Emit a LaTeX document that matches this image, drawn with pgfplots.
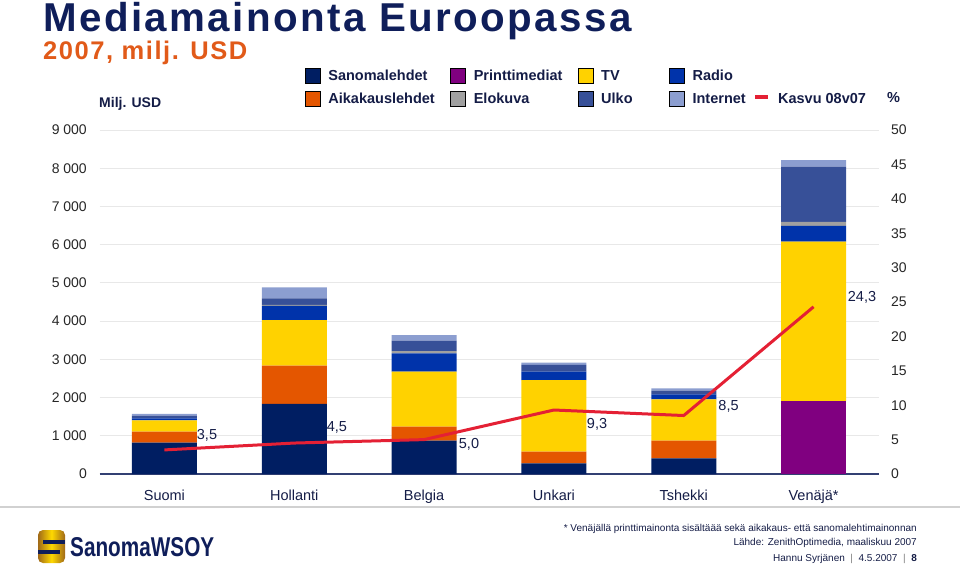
\documentclass[border=0pt]{standalone}
\usepackage{pgfplots}
\usepackage{pgfplotstable}
\pgfplotsset{compat=1.18}
\usepackage{fontspec}
\setmainfont{Liberation Sans}
\newfontfamily\titlefont[LetterSpace=6.0]{Liberation Sans}
\definecolor{cSan}{RGB}{0,30,98}
\definecolor{cAik}{RGB}{228,86,0}
\definecolor{cPri}{RGB}{128,0,128}
\definecolor{cTV}{RGB}{255,210,0}
\definecolor{cRad}{RGB}{0,51,170}
\definecolor{cElo}{RGB}{160,160,160}
\definecolor{cUlk}{RGB}{55,80,152}
\definecolor{cInt}{RGB}{140,158,208}
\definecolor{cRed}{RGB}{228,32,52}
\definecolor{cNavy}{RGB}{15,30,90}
\definecolor{cOrange}{RGB}{225,90,25}
\definecolor{cText}{RGB}{20,28,70}
\definecolor{cGold}{RGB}{228,150,35}
\pgfplotsset{
  sq/.style={legend image code/.code={\fill[##1] (0pt,-7.5pt) rectangle (15pt,7.5pt);}},
  ln/.style={legend image code/.code={\draw[##1] (0pt,1.5pt) -- (13pt,1.5pt);}},
}
\newcommand{\LE}[2]{\makebox[#1][l]{\hspace*{8pt}#2}}
\pgfplotstableread{
x San Aik Pri TV Rad Elo Ulk Int
0 820 287 0 297 53 0 69 44
1 1832 1002 0 1195 367 30 170 288
2 872 366 0 1439 480 60 270 148
3 279 305 0 1875 218 0 175 61
4 410 462 0 1082 131 0 94 63
5 0 0 1910 4168 411 105 1445 175
}\bars
\begin{document}
\begin{tikzpicture}[x=1pt,y=1pt]
\path[use as bounding box] (0,0) rectangle (960,571);
% titles
\node[anchor=base west, inner sep=0, text=cNavy, font=\titlefont\fontsize{40.3}{40.3}\selectfont\bfseries] at (43,539.5) {Mediamainonta Euroopassa};
\node[anchor=base west, inner sep=0, text=cOrange, font=\titlefont\fontsize{25.5}{25.5}\selectfont\bfseries] at (43,511) {2007, milj. USD};
\node[anchor=base west, inner sep=0, text=cText, font=\fontsize{14}{14}\selectfont\bfseries] at (99,463) {Milj. USD};
\node[anchor=base west, inner sep=0, text=cText, font=\fontsize{14.5}{14.5}\selectfont\bfseries] at (887,468) {\%};
% separator
\draw[black!18, line width=1.2pt] (0,64) -- (960,64);
% footer
\node[anchor=base east, inner sep=0, text=cText, font=\fontsize{10}{10}\selectfont] at (917,40) {* Venäjällä printtimainonta sisältäää sekä aikakaus- että sanomalehtimainonnan};
\node[anchor=base east, inner sep=0, text=cText, font=\fontsize{10}{10}\selectfont] at (917,26) {Lähde: ZenithOptimedia, maaliskuu 2007};
\node[anchor=base east, inner sep=0, text=cText, font=\fontsize{10}{10}\selectfont] at (917,10) {Hannu Syrjänen \ \textcolor{black!50}{|} \ 4.5.2007 \ \textcolor{black!50}{|} \ \textbf{8}};
% logo
\shade[left color=cGold!70!black, right color=cGold!70!black, middle color=yellow!70!orange, rounded corners=5pt] (38,8) rectangle (65,41);
\fill[cNavy] (43,27.5) rectangle (65,31.5);
\fill[cNavy] (38,17.5) rectangle (60,21.5);
\node[anchor=base west, inner sep=0, text=cNavy] at (70,15) {\resizebox{144pt}{19pt}{\bfseries SanomaWSOY}};

\begin{axis}[
  at={(99.5pt,97pt)}, anchor=south west, scale only axis,
  width=779pt, height=344pt,
  xmin=-0.5, xmax=5.5, ymin=0, ymax=9000,
  ybar stacked, bar width=65pt,
  xtick={0,1,2,3,4,5},
  xticklabels={Suomi,Hollanti,Belgia,Unkari,Tshekki,Venäjä*},
  ytick={0,1000,...,9000},
  yticklabels={0,1 000,2 000,3 000,4 000,5 000,6 000,7 000,8 000,9 000},
  ymajorgrids, grid style={draw=black!9, line width=0.8pt},
  axis x line*=bottom, axis y line*=left,
  y axis line style={draw=none},
  x axis line style={draw=cNavy!85, line width=1.2pt},
  tick style={draw=none}, major tick length=0pt,
  xticklabel style={text=cText, font=\fontsize{14.5}{14.5}\selectfont, anchor=base, yshift=-26pt, inner sep=0pt},
  yticklabel style={text=black!85, font=\fontsize{14}{14}\selectfont, anchor=east, inner sep=0pt, xshift=-12.5pt},
  clip=false,
]
\addplot[fill=cSan, draw=none] table[x=x,y=San]{\bars};
\addplot[fill=cAik, draw=none] table[x=x,y=Aik]{\bars};
\addplot[fill=cPri, draw=none] table[x=x,y=Pri]{\bars};
\addplot[fill=cTV, draw=none] table[x=x,y=TV]{\bars};
\addplot[fill=cRad, draw=none] table[x=x,y=Rad]{\bars};
\addplot[fill=cElo, draw=none] table[x=x,y=Elo]{\bars};
\addplot[fill=cUlk, draw=none] table[x=x,y=Ulk]{\bars};
\addplot[fill=cInt, draw=none] table[x=x,y=Int]{\bars};
\end{axis}

\begin{axis}[
  at={(99.5pt,97pt)}, anchor=south west, scale only axis,
  width=779pt, height=344pt,
  xmin=-0.5, xmax=5.5, ymin=0, ymax=50,
  axis x line=none, axis y line*=right, y axis line style={draw=none},
  xtick=\empty,
  ytick={0,5,10,15,20,25,30,35,40,45,50},
  yticklabels={0,5,10,15,20,25,30,35,40,45,50},
  tick style={draw=none}, major tick length=0pt,
  yticklabel style={text=black!85, font=\fontsize{14}{14}\selectfont, anchor=west, inner sep=0pt, xshift=12.5pt},
  clip=false,
  legend columns=5,
  legend cell align=left,
  legend style={at={(0.2638,1.1802)}, anchor=north west, draw=none, fill=none, inner sep=0pt, outer sep=0pt,
     nodes={inner sep=0pt, text height=10.4pt, text depth=0pt, font=\fontsize{14.5}{14.5}\selectfont\bfseries, text=cText},
     column sep=0pt, row sep=7.5pt},
]
\addplot[cRed, line width=3pt, line join=round, forget plot] coordinates {(0,3.5) (1,4.5) (2,5.0) (3,9.3) (4,8.5) (5,24.3)};
\node[font=\fontsize{14.5}{14.5}\selectfont, text=cText] at (axis cs:0.328,5.67) {3,5};
\node[font=\fontsize{14.5}{14.5}\selectfont, text=cText] at (axis cs:1.329,6.83) {4,5};
\node[font=\fontsize{14.5}{14.5}\selectfont, text=cText] at (axis cs:2.346,4.36) {5,0};
\node[font=\fontsize{14.5}{14.5}\selectfont, text=cText] at (axis cs:3.332,7.27) {9,3};
\node[font=\fontsize{14.5}{14.5}\selectfont, text=cText] at (axis cs:4.345,9.88) {8,5};
\node[font=\fontsize{14.5}{14.5}\selectfont, text=cText] at (axis cs:5.373,25.65) {24,3};
\addlegendimage{sq, fill=cSan}\addlegendentry{\LE{130pt}{Sanomalehdet}}
\addlegendimage{sq, fill=cPri}\addlegendentry{\LE{112pt}{Printtimediat}}
\addlegendimage{sq, fill=cTV}\addlegendentry{\LE{76pt}{TV}}
\addlegendimage{sq, fill=cRad}\addlegendentry{\LE{69pt}{Radio}}
\addlegendimage{empty legend}\addlegendentry{}
\addlegendimage{sq, fill=cAik}\addlegendentry{\LE{130pt}{Aikakauslehdet}}
\addlegendimage{sq, fill=cElo}\addlegendentry{\LE{112pt}{Elokuva}}
\addlegendimage{sq, fill=cUlk}\addlegendentry{\LE{76pt}{Ulko}}
\addlegendimage{sq, fill=cInt}\addlegendentry{\LE{69pt}{Internet}}
\addlegendimage{ln, draw=cRed, line width=3.5pt}\addlegendentry{\LE{110pt}{Kasvu 08v07}}
\end{axis}
\end{tikzpicture}
\end{document}
